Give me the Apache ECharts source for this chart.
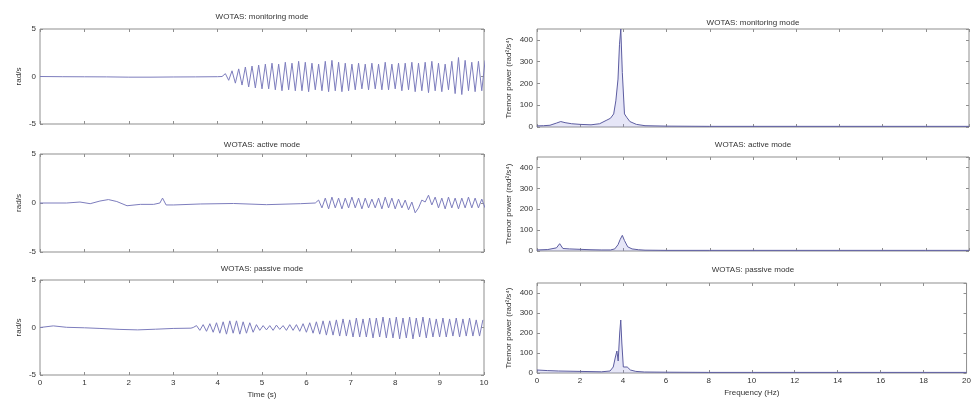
<!DOCTYPE html>
<html><head><meta charset="utf-8">
<script src="https://cdn.jsdelivr.net/npm/echarts@6/dist/echarts.min.js"></script>
<style>html,body{margin:0;padding:0;background:#fff}#c{width:974px;height:401px}</style>
</head><body><div id="c"></div>
<script>
// ---------- DATA ----------
const panelTitles = ["WOTAS: monitoring mode", "WOTAS: active mode", "WOTAS: passive mode"];
const timeTicks = [0,1,2,3,4,5,6,7,8,9,10];
const freqTicks = [0,2,4,6,8,10,12,14,16,18,20];
const radTicks = [-5,0,5];
const powerTicks = [0,100,200,300,400];

// time series: quiet segment [t, rad/s] points, then tremor extrema sampled every tremorStep seconds
const tremorStep = 0.075;
const monQuiet = [[0,0],[0.5,-0.02],[1,-0.03],[1.5,-0.04],[2,-0.07],[2.5,-0.07],[3,-0.05],[3.5,-0.04],[4,-0.02],[4.1,0]];
const monStart = 4.1;
const monTremor = [0.3,-0.4,0.6,-0.7,0.8,-0.9,
  1.0,-1.1,1.1,-1.2,1.2,-1.3,1.3,-1.3,
  1.4,-1.4,1.3,-1.5,1.5,-1.4,1.4,-1.5,1.6,-1.5,1.5,-1.6,1.4,-1.4,
  1.3,-1.5,1.6,-1.6,1.7,-1.5,1.5,-1.6,1.4,-1.5,1.3,-1.4,1.4,-1.3,
  1.3,-1.4,1.4,-1.3,1.3,-1.4,1.5,-1.4,1.3,-1.3,1.4,-1.5,1.4,-1.4,
  1.5,-1.6,1.4,-1.5,1.5,-1.7,1.6,-1.5,1.4,-1.6,1.3,-1.4,1.6,-1.8,
  2.0,-1.9,1.7,-1.5,1.5,-1.6,1.6,-1.5,1.7];

const actQuiet = [[0,0],[0.6,0],[0.9,0.1],[1.13,-0.07],[1.35,0.2],[1.54,0.35],[1.73,0.15],[1.96,-0.28],[2.26,-0.14],[2.56,-0.14],[2.7,0],[2.76,0.5],[2.84,-0.2],[3.01,-0.2],[3.61,-0.1],[4.36,-0.05],[5.1,-0.17],[5.87,-0.07],[6.2,0]];
const actStart = 6.2;
const actTremor = [0.3,-0.5,0.5,-0.6,0.6,-0.5,0.5,-0.6,0.5,-0.5,0.6,
  -0.5,0.5,-0.6,0.5,-0.5,0.4,-0.5,0.5,-0.6,0.6,-0.5,0.5,-0.6,
  0.4,-0.5,0.3,-0.7,0.1,-1.0,-0.5,0.3,0.1,0.8,-0.2,0.6,
  -0.5,0.5,-0.6,0.6,-0.5,0.5,-0.6,0.5,-0.5,0.6,-0.5,0.5,-0.5,0.4,-0.5];

const pasQuiet = [[0,0],[0.3,0.17],[0.6,0.02],[1,-0.03],[1.35,-0.1],[1.8,-0.2],[2.2,-0.25],[2.6,-0.18],[3,-0.1],[3.4,-0.07],[3.45,0]];
const pasStart = 3.45;
const pasTremor = [0.2,-0.3,0.3,-0.4,0.4,-0.5,
  0.5,-0.6,0.6,-0.7,0.7,-0.6,0.7,-0.7,0.6,-0.6,0.5,-0.5,
  0.3,-0.3,0.2,-0.25,0.2,-0.3,0.25,-0.2,0.2,-0.3,0.3,-0.3,0.3,
  -0.4,0.4,-0.5,0.5,-0.6,0.6,-0.7,0.7,-0.8,0.7,-0.8,0.8,-0.9,0.9,-0.9,0.8,
  -1.0,1.0,-1.0,0.9,-1.0,1.0,-1.1,1.0,-1.0,1.1,-1.1,1.0,-1.1,
  1.1,-1.2,1.0,-1.1,1.1,-1.2,1.0,-1.0,1.1,-1.1,1.0,-1.0,0.9,
  -1.0,1.0,-1.0,0.9,-0.9,1.0,-1.0,0.9,-0.9,1.0,-0.9,0.8,-0.9,0.8];

// spectra: frequency (Hz) and tremor power (rad^2/s^4)
const monFreq  = [0,0.3,0.6,0.9,1.1,1.3,1.6,2.0,2.5,2.9,3.2,3.4,3.55,3.65,3.75,3.82,3.88,3.95,4.05,4.15,4.3,4.6,5,6,8,10,12,14,16,18,20];
const monPower = [5,6,8,18,25,20,15,12,10,15,30,40,60,120,220,380,450,250,60,45,25,12,6,4,3,3,3,3,3,3,3];
const actFreq  = [0,0.5,0.9,1.05,1.2,1.5,2,2.5,3,3.4,3.6,3.75,3.85,3.95,4.05,4.2,4.4,4.7,5,6,8,10,12,14,16,18,20];
const actPower = [5,7,15,35,12,10,8,6,5,5,10,30,55,75,50,20,10,6,4,3,3,3,3,3,3,3,3];
const pasFreq  = [0,0.5,1,2,3,3.4,3.55,3.65,3.72,3.78,3.85,3.9,3.95,4.02,4.1,4.2,4.35,4.6,5,6,8,10,12,14,16,18,20];
const pasPower = [15,12,10,8,6,10,30,80,110,60,200,265,150,30,25,30,15,8,5,4,3,3,3,3,3,3,3];

// ---------- BUILD ----------
function tremorSeries(quiet, start, vals) {
  const out = quiet.slice();
  vals.forEach((v, i) => out.push([start + (i + 1) * tremorStep, v]));
  return out;
}
function zip(a, b) { return a.map((x, i) => [x, b[i]]); }

const timeData = [tremorSeries(monQuiet, monStart, monTremor), tremorSeries(actQuiet, actStart, actTremor), tremorSeries(pasQuiet, pasStart, pasTremor)];
const specData = [zip(monFreq, monPower), zip(actFreq, actPower), zip(pasFreq, pasPower)];

const leftBoxes  = [{top:29,height:95,title:13},{top:154,height:98,title:141},{top:280,height:95,title:265}];
const rightBoxes = [{top:29,height:98,title:19},{top:157,height:94,title:141},{top:283,height:90,title:266}];
const FONT = 'Liberation Sans';
const TXT = '#333';

const grids = [], xAxes = [], yAxes = [], series = [], titles = [];
function addPanel(box, left, width, xInfo, yInfo, showX, data, isSpec, title) {
  const gi = grids.length;
  grids.push({left:left, top:box.top, width:width, height:box.height, show:true, borderColor:'#8f8f8f', borderWidth:1, backgroundColor:'#fff'});
  const tickBase = {show:true, inside:true, length:3, lineStyle:{color:'#8f8f8f'}};
  const lineOff = {show:false, onZero:false};
  xAxes.push({type:'value', gridIndex:gi, position:'bottom', min:xInfo.min, max:xInfo.max, interval:xInfo.interval,
    axisLine:lineOff, axisTick:tickBase, splitLine:{show:false},
    axisLabel:{show:showX, fontFamily:FONT, fontSize:8, color:TXT, margin:4},
    name: showX ? xInfo.name : '', nameLocation:'middle', nameGap:16,
    nameTextStyle:{fontFamily:FONT, fontSize:8, color:TXT}});
  xAxes.push({type:'value', gridIndex:gi, position:'top', min:xInfo.min, max:xInfo.max, interval:xInfo.interval,
    axisLine:lineOff, axisTick:tickBase, splitLine:{show:false}, axisLabel:{show:false}});
  yAxes.push({type:'value', gridIndex:gi, position:'left', min:yInfo.min, max:yInfo.max, interval:yInfo.interval,
    axisLine:lineOff, axisTick:tickBase, splitLine:{show:false},
    axisLabel:{fontFamily:FONT, fontSize:8, color:TXT, margin:4, showMaxLabel: yInfo.showMax},
    name:yInfo.name, nameLocation:'middle', nameRotate:90, nameGap:yInfo.nameGap,
    nameTextStyle:{fontFamily:FONT, fontSize:8, color:TXT}});
  yAxes.push({type:'value', gridIndex:gi, position:'right', min:yInfo.min, max:yInfo.max, interval:yInfo.interval,
    axisLine:lineOff, axisTick:tickBase, splitLine:{show:false}, axisLabel:{show:false}});
  const s = {type:'line', xAxisIndex:2*gi, yAxisIndex:2*gi, data:data, showSymbol:false, symbol:'none',
    lineStyle:{width:1, color: isSpec ? '#5c5ca0' : '#7d7dbd'}, clip:true, animation:false, z:3};
  if (isSpec) s.areaStyle = {color:'rgba(130,130,215,0.28)'};
  series.push(s);
  titles.push({text:title, left:left + width/2, top:box.title, textAlign:'center', padding:0,
    textStyle:{fontFamily:FONT, fontSize:8, fontWeight:'normal', color:TXT}});
}

for (let i = 0; i < 3; i++) {
  addPanel(leftBoxes[i], 40, 444, {min:0, max:10, interval:1, name:'Time (s)'},
    {min:-5, max:5, interval:5, name:'rad/s', nameGap:17, showMax:true}, i === 2, timeData[i], false, panelTitles[i]);
}
for (let i = 0; i < 3; i++) {
  addPanel(rightBoxes[i], 537, 432, {min:0, max:20, interval:2, name:'Frequency (Hz)'},
    {min:0, max:450, interval:100, name:'Tremor power (rad\u00B2/s\u2074)', nameGap:24, showMax:false}, i === 2, specData[i], true, panelTitles[i]);
}

const chart = echarts.init(document.getElementById('c'), null, {renderer:'canvas'});
chart.setOption({backgroundColor:'#fff', animation:false, title:titles, grid:grids, xAxis:xAxes, yAxis:yAxes, series:series});
</script></body></html>
